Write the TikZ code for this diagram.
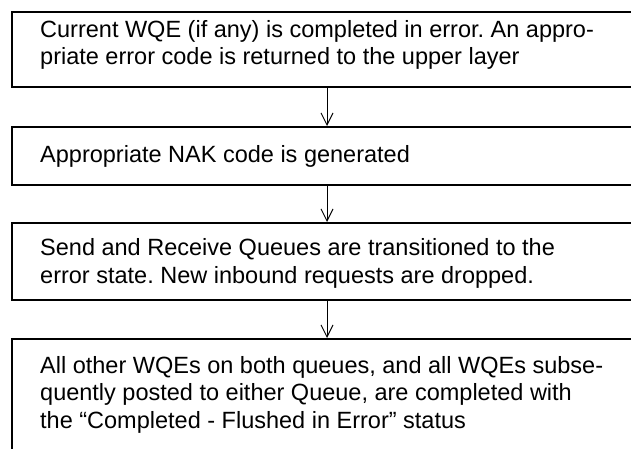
\documentclass[tikz,border=0pt]{standalone}
\usepackage{fontspec}
\setmainfont{Liberation Sans}
\usetikzlibrary{arrows.meta}
\frenchspacing
\begin{document}
\begin{tikzpicture}[x=1pt,y=-1pt,
  box/.style={draw=black, line width=1.8pt, rectangle, anchor=north west, minimum width=700pt, inner sep=0pt},
  txt/.style={anchor=base west, align=left, inner sep=0pt, font=\fontsize{23.5}{27.5}\selectfont\frenchspacing},
  arr/.style={line width=1pt, -{Straight Barb[length=12pt,width=12pt,line width=1pt]}}]
\useasboundingbox (0,0) rectangle (631,449);
\clip (0,0) rectangle (631,449);
\node[box, minimum height=75pt] (b1) at (11,11) {};
\node[box, minimum height=58pt] (b2) at (11,126) {};
\node[box, minimum height=77pt] (b3) at (11,222) {};
\node[box, minimum height=150pt] (b4) at (11,338) {};
\coordinate (ax) at (327,0);
\draw[arr] (b1.south -| ax) -- (b2.north -| ax);
\draw[arr] (b2.south -| ax) -- (b3.north -| ax);
\draw[arr] (b3.south -| ax) -- (b4.north -| ax);
\node[txt] (t1) at (40,65) {Current WQE (if any) is completed in error. An appro-\\priate error code is returned to the upper layer};
\node[txt] (t2) at (40,162.5) {Appropriate NAK code is generated};
\node[txt] (t3) at (40,283) {Send and Receive Queues are transitioned to the\\error state. New inbound requests are dropped.};
\node[txt] (t4) at (40,428) {All other WQEs on both queues, and all WQEs subse-\\quently posted to either Queue, are completed with\\the “Completed - Flushed in Error” status};
\end{tikzpicture}
\end{document}
